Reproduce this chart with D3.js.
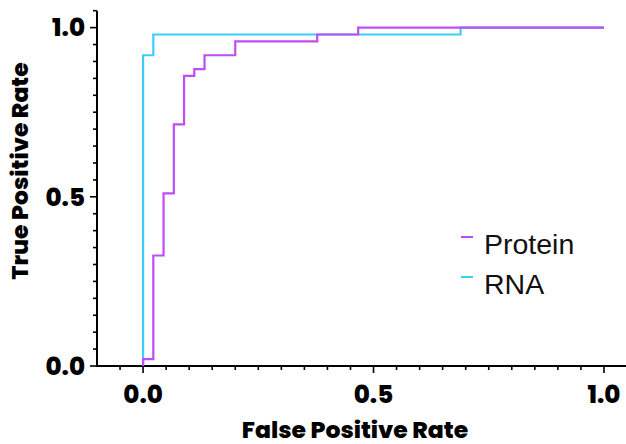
<!DOCTYPE html>
<html>
<head>
<meta charset="utf-8">
<script src="https://cdn.jsdelivr.net/npm/d3@7"></script>
<style>
  html, body { margin: 0; padding: 0; background: #fff; }
  svg { display: block; }
</style>
</head>
<body>
<script>
// ROC step points (x = false positive rate, y = true positive rate)
const proteinFPR = [0, 0.0222, 0.0444, 0.0667, 0.0889, 0.1111, 0.1333, 0.2000, 0.3778, 0.4667, 1.0];
const proteinTPR = [0, 0.0204, 0.3265, 0.5102, 0.7143, 0.8571, 0.8776, 0.9184, 0.9592, 0.9796, 1.0];
const rnaFPR = [0, 0.0222, 0.6889, 1.0];
const rnaTPR = [0, 0.9184, 0.9796, 1.0];
const seriesNames = ["Protein", "RNA"];
const seriesColors = ["#bf4cf7", "#3ccff5"];
const majorTicks = [0, 0.5, 1.0];
const xTitle = "False Positive Rate";
const yTitle = "True Positive Rate";

const W = 626, H = 444;
const svg = d3.select("body").append("svg").attr("width", W).attr("height", H);

const x = d3.scaleLinear().domain([-0.1, 1.05]).range([97, 627]);
const y = d3.scaleLinear().domain([0, 1.05]).range([366, 10.7]);

const tickFont = "Poppins, Inter, 'Noto Sans', sans-serif";

// minor ticks every 0.05
const xMinor = d3.range(-0.05, 1.051, 0.05).map(v => +v.toFixed(2));
const yMinor = d3.range(0, 1.051, 0.05).map(v => +v.toFixed(2));

// X axis
const gx = svg.append("g").attr("transform", `translate(0,${y(0)})`);
gx.append("line").attr("x1", x(-0.1)).attr("x2", x(1.05)).attr("y1", 0).attr("y2", 0)
  .attr("stroke", "#000").attr("stroke-width", 2);
gx.selectAll("line.minor").data(xMinor).enter().append("line")
  .attr("x1", d => x(d)).attr("x2", d => x(d)).attr("y1", 0)
  .attr("y2", d => majorTicks.some(m => Math.abs(m - d) < 1e-6) ? 7 : 4)
  .attr("stroke", "#000").attr("stroke-width", 1.6);
gx.selectAll("text").data(majorTicks).enter().append("text")
  .attr("x", d => x(d)).attr("y", 37).attr("text-anchor", "middle")
  .attr("font-family", tickFont).attr("font-weight", 800).attr("font-size", 24.5)
  .attr("fill", "#000").text(d => d.toFixed(1));

// Y axis
const gy = svg.append("g").attr("transform", `translate(${x(-0.1)},0)`);
gy.append("line").attr("x1", 0).attr("x2", 0).attr("y1", y(0) + 1).attr("y2", y(1.05))
  .attr("stroke", "#000").attr("stroke-width", 2);
gy.selectAll("line.minor").data(yMinor).enter().append("line")
  .attr("y1", d => y(d)).attr("y2", d => y(d)).attr("x1", 0)
  .attr("x2", d => majorTicks.some(m => Math.abs(m - d) < 1e-6) ? -7 : -4)
  .attr("stroke", "#000").attr("stroke-width", 1.6);
gy.selectAll("text").data(majorTicks).enter().append("text")
  .attr("x", -12).attr("y", d => y(d)).attr("dy", "0.36em").attr("text-anchor", "end")
  .attr("font-family", tickFont).attr("font-weight", 800).attr("font-size", 24.5)
  .attr("fill", "#000").text(d => d.toFixed(1));

// Titles
svg.append("text").attr("x", 355).attr("y", 438).attr("text-anchor", "middle")
  .attr("font-family", tickFont).attr("font-weight", 800).attr("font-size", 23.5)
  .attr("fill", "#000").text(xTitle);
svg.append("text").attr("transform", `translate(28,171) rotate(-90)`).attr("text-anchor", "middle")
  .attr("font-family", tickFont).attr("font-weight", 800).attr("font-size", 23.5)
  .attr("fill", "#000").text(yTitle);

// Curves
const line = d3.line().x(d => x(d[0])).y(d => y(d[1])).curve(d3.curveStepBefore);
const rnaPts = rnaFPR.map((v, i) => [v, rnaTPR[i]]);
const proPts = proteinFPR.map((v, i) => [v, proteinTPR[i]]);
svg.append("path").attr("d", line(rnaPts)).attr("fill", "none")
  .attr("stroke", seriesColors[1]).attr("stroke-width", 2.2);
svg.append("path").attr("d", line(proPts)).attr("fill", "none")
  .attr("stroke", seriesColors[0]).attr("stroke-width", 2.2);

// Legend
const legY = [237, 277];
const leg = svg.append("g");
seriesNames.forEach((name, i) => {
  leg.append("line").attr("x1", 461).attr("x2", 473).attr("y1", legY[i]).attr("y2", legY[i])
    .attr("stroke", seriesColors[i]).attr("stroke-width", 2);
  leg.append("text").attr("x", 484).attr("y", legY[i] + 17)
    .attr("font-family", "'Liberation Sans', Arial, sans-serif").attr("font-size", 28.5)
    .attr("fill", "#111").text(name);
});
</script>
</body>
</html>
